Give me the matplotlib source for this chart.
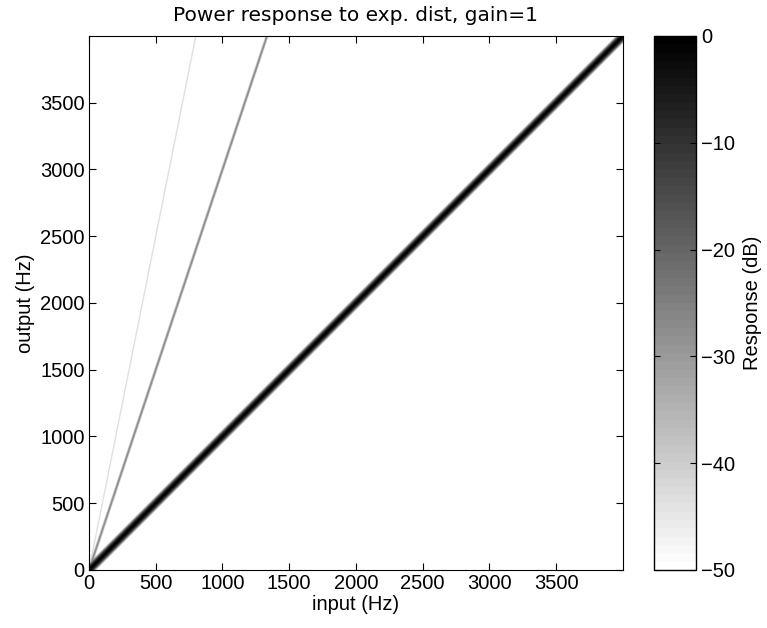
import numpy as np
import matplotlib
matplotlib.use("Agg")
import matplotlib.pyplot as plt
from matplotlib.colors import ListedColormap

# Harmonic content of the exponential distortion (gain = 1)
harmonic_orders = [1, 3, 5]
harmonic_levels_db = [0.0, -26.0, -40.0]
lobe_halfwidth_hz = 56.0      # half-width of the spectral lobe at -50 dB
floor_db = -50.0

fs = 8000.0
n_bins = 1000
freq_max = fs / 2

x_ticks = [0, 500, 1000, 1500, 2000, 2500, 3000, 3500]
y_ticks = [0, 500, 1000, 1500, 2000, 2500, 3000, 3500]
cbar_ticks = [0, -10, -20, -30, -40, -50]

# Response map: rows = output frequency, columns = input frequency
f_in = (np.arange(n_bins) + 0.5) * freq_max / n_bins
f_out = (np.arange(n_bins) + 0.5) * freq_max / n_bins
FI, FO = np.meshgrid(f_in, f_out)
k = -floor_db / lobe_halfwidth_hz ** 2
resp = np.full(FI.shape, floor_db)
for order, level in zip(harmonic_orders, harmonic_levels_db):
    d = FO - order * FI
    resp = np.maximum(resp, level - k * d ** 2)
resp = np.clip(resp, floor_db, 0)

plt.rcParams["font.family"] = ["Liberation Sans", "DejaVu Sans"]
plt.rcParams["font.size"] = 14.5

fig = plt.figure(figsize=(7.67, 6.28), dpi=100)
ax = fig.add_axes([0.116, 0.0924, 0.696, 0.8503])
cax = fig.add_axes([0.8527, 0.0924, 0.0548, 0.8503])

# 64-level inverted gray map: white = floor, black = 0 dB
gray64 = ListedColormap(np.column_stack([np.linspace(1.0, 0.0, 64)] * 3))

im = ax.imshow(resp, origin="lower", extent=[0, freq_max, 0, freq_max],
               cmap=gray64, vmin=floor_db, vmax=0, aspect="auto",
               interpolation="bilinear")
ax.set_xlim(0, freq_max)
ax.set_ylim(0, freq_max)
ax.set_xticks(x_ticks)
ax.set_yticks(y_ticks)
ax.tick_params(direction="in", top=True, right=True, length=5, width=0.8,
               labelsize=14.5, pad=3)
ax.set_xlabel("input (Hz)", fontsize=14.5, labelpad=1)
ax.set_ylabel("output (Hz)", fontsize=14.5, labelpad=4)
ax.set_title("Power response to exp. dist, gain=1", fontsize=14.5,
             family="DejaVu Sans", pad=11)

cb = fig.colorbar(im, cax=cax, ticks=cbar_ticks)
cb.outline.set_linewidth(1.0)
cax.tick_params(direction="in", left=True, right=True, length=4, labelsize=14.5)
cax.set_yticklabels([f"\u2212{abs(t)}" if t < 0 else str(t) for t in cbar_ticks])
cb.set_label("Response (dB)", fontsize=14.5, labelpad=6)

fig.savefig("out.png", dpi=100)
